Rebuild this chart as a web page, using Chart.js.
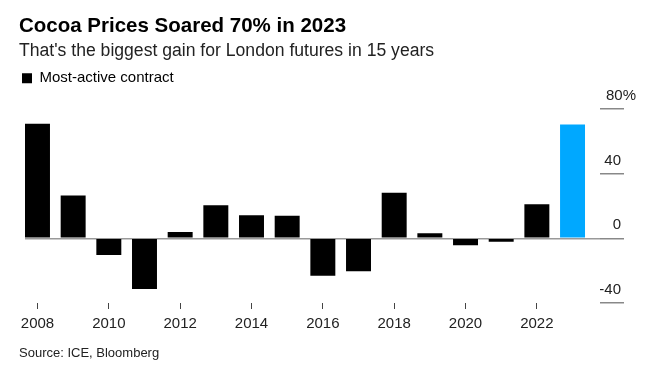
<!DOCTYPE html>
<html>
<head>
<meta charset="utf-8">
<script src="https://cdn.jsdelivr.net/npm/chart.js@4.4.1/dist/chart.umd.min.js"></script>
<style>
    body { margin: 0; background: #fff; }
    #wrap { position: relative; width: 657px; height: 372px; }
    #source {
        position: absolute; left: 19px; top: 345px;
        font: 13px "Liberation Sans", Arial, sans-serif; color: #222;
    }
</style>
</head>
<body>
<div id="wrap">
    <canvas id="cocoaChart"></canvas>
    <div id="source">Source: ICE, Bloomberg</div>
</div>
<script>
// ----------------------------------------------------------
// DATA
// ----------------------------------------------------------
const years = [2008, 2009, 2010, 2011, 2012, 2013, 2014, 2015,
               2016, 2017, 2018, 2019, 2020, 2021, 2022, 2023];
const changes = [70.8, 26.5, -10.3, -31.4, 3.9, 20.5, 14.3, 13.9,
                 -23.2, -20.3, 28.1, 3.1, -4.3, -2.1, 21.1, 70.3];
const yearTicks = [2008, 2010, 2012, 2014, 2016, 2018, 2020, 2022];
const pctTicks = [-40, 0, 40, 80];

const FONT = '"Liberation Sans", Arial, sans-serif';

// ----------------------------------------------------------
// CHART
// ----------------------------------------------------------
const ctx = document.getElementById("cocoaChart").getContext("2d");
const cocoaChart = new Chart(ctx, {
    type: "bar",
    data: {
        datasets: [{
            label: "Most-active contract",
            data: years.map((yr, i) => ({ x: yr, y: changes[i] })),
            backgroundColor: years.map(yr => yr === 2023 ? "#00a8ff" : "#000000"),
            barPercentage: 0.7,
            categoryPercentage: 1.0,
            xAxisID: "x",
            yAxisID: "y"
        }]
    },
    options: {
        responsive: true,
        maintainAspectRatio: false,
        animation: false,
        layout: { padding: { left: 19, right: 21, top: 0, bottom: 33 } },
        plugins: {
            tooltip: { enabled: false },
            title: {
                display: true,
                text: "Cocoa Prices Soared 70% in 2023",
                align: "start",
                color: "#000",
                font: { family: FONT, size: 20.5, weight: "bold", lineHeight: 1.2 },
                padding: { top: 14, bottom: 2 }
            },
            subtitle: {
                display: true,
                text: "That's the biggest gain for London futures in 15 years",
                align: "start",
                color: "#222",
                font: { family: FONT, size: 17.6, lineHeight: 1.2 },
                padding: { top: 0, bottom: 6 }
            },
            legend: {
                display: true,
                align: "start",
                labels: {
                    boxWidth: 10,
                    boxHeight: 10,
                    padding: 3,
                    color: "#000",
                    font: { family: FONT, size: 15 },
                    generateLabels: () => [{
                        text: "Most-active contract",
                        fillStyle: "#000",
                        strokeStyle: "#000",
                        lineWidth: 0
                    }]
                }
            }
        },
        scales: {
            x: {
                type: "linear",
                offset: false,
                min: 2007.65,
                max: 2023.77,
                afterBuildTicks: axis => { axis.ticks = yearTicks.map(v => ({ value: v })); },
                grid: { offset: false, drawOnChartArea: false, drawTicks: true, tickLength: 6, tickColor: "#444", tickWidth: 1 },
                border: { display: false },
                ticks: {
                    color: "#222",
                    font: { family: FONT, size: 15 },
                    padding: 6,
                    maxRotation: 0,
                    autoSkip: false,
                    callback: v => String(v)
                }
            },
            yLeft: {
                type: "linear",
                position: "left",
                afterFit: s => { s.width = 6; },
                grid: { display: false },
                border: { display: false },
                ticks: { display: false }
            },
            y: {
                type: "linear",
                position: "right",
                min: -40,
                max: 88.15,
                afterBuildTicks: axis => { axis.ticks = pctTicks.map(v => ({ value: v })); },
                afterFit: s => { s.width = 36; },
                grid: {
                    color: c => (c.tick && c.tick.value === 0) ? "#999" : "rgba(0,0,0,0)",
                    lineWidth: 1.5,
                    drawTicks: true,
                    tickLength: 24,
                    tickColor: "#888",
                    tickWidth: 1.5
                },
                border: { display: false },
                ticks: {
                    color: "#222",
                    font: { family: FONT, size: 15 },
                    crossAlign: "far",
                    labelOffset: -13,
                    callback: v => v === 80 ? "80%" : v + "\u2003"
                }
            }
        }
    }
});
</script>
</body>
</html>
